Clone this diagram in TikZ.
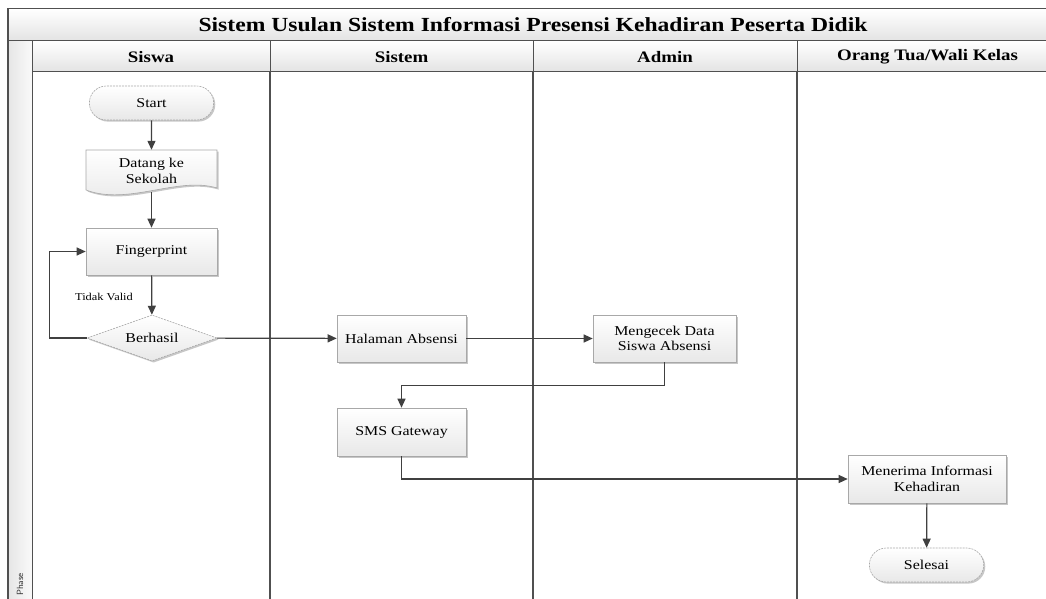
\documentclass[tikz,border=0pt]{standalone}
\usepackage{fontspec}
\setmainfont{Liberation Serif}[FakeStretch=1.18]
\usetikzlibrary{shapes.geometric,shapes.misc,arrows.meta,shadows}
\definecolor{lanegray}{HTML}{505050}
\definecolor{boxline}{HTML}{A8A8A8}
\definecolor{connc}{HTML}{404040}
\begin{document}
\begin{tikzpicture}[x=1pt,y=-1pt,
  lane/.style={draw=lanegray,line width=1.1pt},
  hdr/.style={draw=lanegray,line width=1pt,top color=white,bottom color=black!11},
  shad/.style={drop shadow={shadow xshift=1.6pt,shadow yshift=-1.6pt,opacity=0.22,fill=black}},
  proc/.style={rectangle,draw=boxline,line width=0.6pt,top color=white,bottom color=black!9,
    align=center,inner sep=2pt,font=\fontsize{13.5}{15.5}\selectfont,shad},
  term/.style={rounded rectangle,draw=boxline,dash pattern=on 2pt off 1pt,line width=0.6pt,
    top color=white,bottom color=black!9,font=\fontsize{13.5}{15.5}\selectfont,shad},
  decide/.style={diamond,aspect=2.8,inner sep=0pt,draw=boxline,dash pattern=on 2pt off 1pt,
    line width=0.6pt,top color=white,bottom color=black!9,font=\fontsize{13.5}{15.5}\selectfont,shad},
  conn/.style={draw=connc,line width=1.2pt,-{Triangle[length=9pt,width=8pt]}},
  titlefont/.style={font=\bfseries\fontsize{20}{22}\selectfont},
  headfont/.style={font=\bfseries\fontsize{16}{18}\selectfont},
]
\useasboundingbox (0,0) rectangle (1046,599);
\clip (0,0) rectangle (1046,599);
\fill[white] (0,0) rectangle (1046,599);

% frame, title and headers
\path[lane,fill=white] (8,9) rectangle (1058,620);
\path[hdr] (8,9) rectangle (1058,41);
\node[titlefont] (title) at (533,25) {Sistem Usulan Sistem Informasi Presensi Kehadiran Peserta Didik};
\path[draw=lanegray,line width=1pt,left color=black!10,right color=black!2] (8,41) rectangle (32,620);
\path[hdr] (32,41) rectangle (270,72);
\path[hdr] (270,41) rectangle (533,72);
\path[hdr] (533,41) rectangle (797,72);
\path[hdr] (797,41) rectangle (1058,72);
\node[headfont] (h1) at (151,57) {Siswa};
\node[headfont] (h2) at (401.5,57) {Sistem};
\node[headfont] (h3) at (665,57) {Admin};
\node[headfont] (h4) at (927.5,57) {Orang Tua/Wali Kelas};
\draw[lane] (270,72) -- (270,620);
\draw[lane] (533,72) -- (533,620);
\draw[lane] (797,72) -- (797,620);
\node[rotate=90,anchor=west,inner sep=0pt,font=\sffamily\fontsize{9}{11}\selectfont,text=black!80] (phase) at (20,596) {Phase};

% document shape
\path[draw=boxline,line width=0.6pt,top color=white,bottom color=black!9,shad]
  (86,150) -- (217,150) -- (217,188) .. controls (178,176) and (128,206) .. (86,190) -- cycle;

% nodes
\node[term,minimum width=131pt,minimum height=34pt] (start) at (151.5,103) {Start};
\node[align=center,minimum width=131pt,minimum height=42pt,inner sep=0pt,font=\fontsize{13.5}{16.5}\selectfont] (datang) at (151.5,171) {Datang ke\\Sekolah};
\node[proc,minimum width=131pt,minimum height=47pt] (finger) at (151.5,251.5) {Fingerprint};
\node[decide,minimum width=130pt,minimum height=46pt] (berhasil) at (152,338) {Berhasil};
\node[font=\fontsize{10.5}{12}\selectfont] (tidak) at (104,297) {Tidak Valid};
\node[proc,minimum width=129pt,minimum height=47pt] (halaman) at (401.5,338.5) {Halaman Absensi};
\node[proc,minimum width=143pt,minimum height=47pt] (cek) at (664.5,338.5) {Mengecek Data\\Siswa Absensi};
\node[proc,minimum width=129pt,minimum height=48pt] (sms) at (401.5,432) {SMS Gateway};
\node[proc,minimum width=158pt,minimum height=48pt] (terima) at (927,479) {Menerima Informasi\\Kehadiran};
\node[term,minimum width=121pt,minimum height=34pt] (selesai) at (926.5,565) {Selesai};

% connectors
\draw[conn] (start) -- (datang);
\draw[conn] (datang) -- (finger);
\draw[conn] (finger) -- (berhasil);
\draw[conn] (berhasil.west) -- ++(-37,0) |- (finger.west);
\draw[conn] (berhasil) -- (halaman);
\draw[conn] (halaman) -- (cek);
\draw[conn] (cek.south) -- ++(0,23) -| (sms.north);
\draw[conn] (sms.south) |- (terima.west);
\draw[conn] (terima) -- (selesai);
\end{tikzpicture}
\end{document}
